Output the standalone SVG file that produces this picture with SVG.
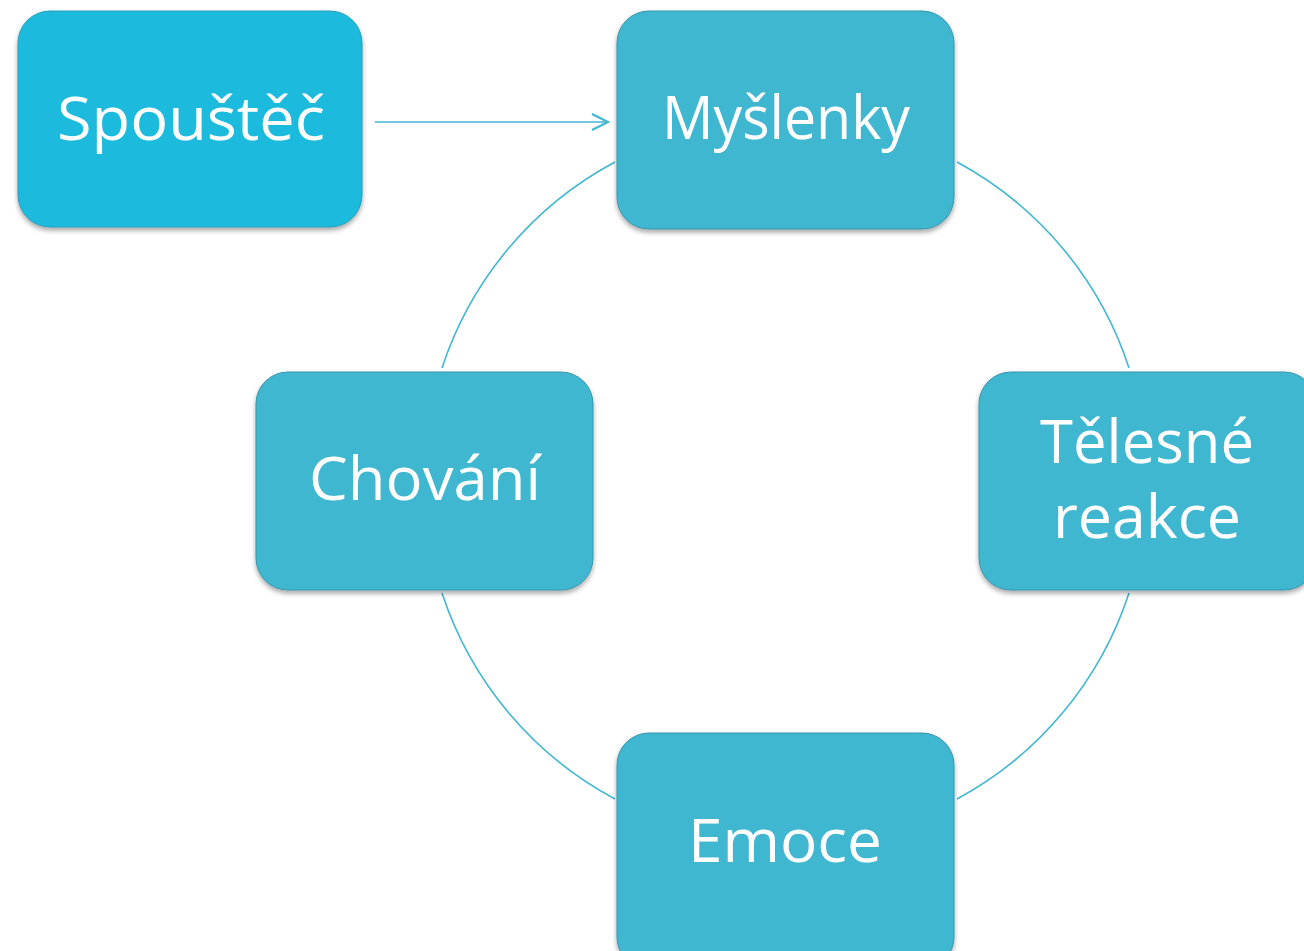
<svg xmlns="http://www.w3.org/2000/svg" width="1304" height="951" viewBox="0 0 1304 951">
<defs>
<filter id="sh" x="-10%" y="-10%" width="120%" height="125%">
<feGaussianBlur in="SourceAlpha" stdDeviation="2.5"/>
<feOffset dx="0" dy="3" result="b"/>
<feComponentTransfer><feFuncA type="linear" slope="0.35"/></feComponentTransfer>
<feMerge><feMergeNode/><feMergeNode in="SourceGraphic"/></feMerge>
</filter>
<marker id="arr" markerWidth="20" markerHeight="20" refX="17" refY="9" orient="auto" markerUnits="userSpaceOnUse">
<path d="M1,1 L17,9 L1,17" fill="none" stroke="#41B7D0" stroke-width="2.2"/>
</marker>
</defs>
<style>
.box{fill:#41B7D0;stroke:#3595AA;stroke-width:1;filter:url(#sh)}
.trig{fill:#1ABBDD;stroke:#2A9CB8;stroke-width:1;filter:url(#sh)}
.t{font-family:"Open Sans","Noto Sans",sans-serif;font-size:60px;fill:#ffffff;text-anchor:middle}
.c{fill:none;stroke:#41B7D0;stroke-width:1.6}
</style>
<rect width="1304" height="951" fill="#ffffff"/>
<g id="connectors">
<path class="c" d="M615,162 A361,361 0 0 0 442,368"/>
<path class="c" d="M957,162 A361,361 0 0 1 1129,368"/>
<path class="c" d="M442,593 A361,361 0 0 0 615,799"/>
<path class="c" d="M957,799 A361,361 0 0 0 1129,593"/>
<line class="c" x1="375" y1="122" x2="608" y2="122" stroke-width="2.2" marker-end="url(#arr)"/>
</g>
<g id="spoustec">
<rect class="trig" x="18" y="11" width="344" height="216" rx="32"/>
<text class="t" x="191" y="140" textLength="268" lengthAdjust="spacingAndGlyphs">Spouštěč</text>
</g>
<g id="myslenky">
<rect class="box" x="617" y="11" width="337" height="218" rx="32"/>
<text class="t" x="786" y="139" textLength="248" lengthAdjust="spacingAndGlyphs">Myšlenky</text>
</g>
<g id="chovani">
<rect class="box" x="256" y="372" width="337" height="218" rx="32"/>
<text class="t" x="425" y="500" textLength="232" lengthAdjust="spacingAndGlyphs">Chování</text>
</g>
<g id="telesne-reakce">
<rect class="box" x="979" y="372" width="337" height="218" rx="32"/>
<text class="t" x="1147" y="463" textLength="214" lengthAdjust="spacingAndGlyphs">Tělesné</text>
<text class="t" x="1147" y="538" textLength="188" lengthAdjust="spacingAndGlyphs">reakce</text>
</g>
<g id="emoce">
<rect class="box" x="617" y="733" width="337" height="236" rx="32"/>
<text class="t" x="785" y="862" textLength="194" lengthAdjust="spacingAndGlyphs">Emoce</text>
</g>
</svg>
